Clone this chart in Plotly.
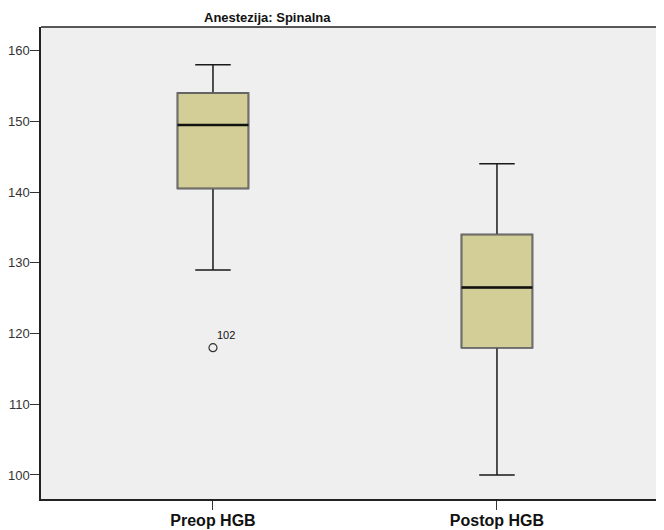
import plotly.graph_objects as go

categories = ["Preop HGB", "Postop HGB"]
lower_whisker = [129, 100]
q1_values = [140.5, 118]
medians = [149.5, 126.5]
q3_values = [154, 134]
upper_whisker = [158, 144]
outlier_values = [118]
outlier_group = [0]
outlier_labels = ["102"]
y_ticks = [100, 110, 120, 130, 140, 150, 160]

positions = list(range(len(categories)))
BOX_W = 0.25
FILL = "#d3ce97"

fig = go.Figure()

fig.add_trace(go.Box(
    x=positions, q1=q1_values, median=medians, q3=q3_values,
    lowerfence=lower_whisker, upperfence=upper_whisker,
    width=BOX_W, whiskerwidth=0.5, fillcolor=FILL,
    line=dict(color="#1a1a1a", width=1.5),
    boxpoints=False, showlegend=False, hoverinfo="skip",
))

# gray box outline and thick median line on top
for i, p in enumerate(positions):
    x0, x1 = p - BOX_W / 2, p + BOX_W / 2
    fig.add_trace(go.Scatter(
        x=[x0, x1, x1, x0, x0],
        y=[q1_values[i], q1_values[i], q3_values[i], q3_values[i], q1_values[i]],
        mode="lines", line=dict(color="#6e6e6e", width=1.5),
        showlegend=False, hoverinfo="skip",
    ))
    fig.add_trace(go.Scatter(
        x=[x0, x1], y=[medians[i], medians[i]],
        mode="lines", line=dict(color="#111111", width=2.5),
        showlegend=False, hoverinfo="skip",
    ))

fig.add_trace(go.Scatter(
    x=[positions[g] for g in outlier_group], y=outlier_values,
    mode="markers",
    marker=dict(symbol="circle-open", size=8, color="#333333", line=dict(width=1.2)),
    showlegend=False, hoverinfo="skip",
))
for g, v, t in zip(outlier_group, outlier_values, outlier_labels):
    fig.add_annotation(x=positions[g], y=v, text=t, showarrow=False,
                       xanchor="left", yanchor="middle", xshift=2, yshift=13,
                       font=dict(family="Liberation Sans, Arial", size=11, color="#111111"))

fig.add_annotation(xref="paper", yref="paper", x=(259 - 33) / 615, y=1, yshift=10,
                   text="<b>Anestezija: Spinalna</b>", showarrow=False,
                   xanchor="center", yanchor="middle",
                   font=dict(family="Liberation Sans, Arial", size=13, color="#111111"))

# top border only (right side of the frame is cut off in the reference)
fig.add_shape(type="line", xref="paper", yref="paper", x0=0, x1=1, y0=1, y1=1,
              line=dict(color="#222222", width=1.5))

fig.update_layout(
    width=648, height=522,
    margin=dict(l=33, r=0, t=19, b=31, autoexpand=False),
    paper_bgcolor="white", plot_bgcolor="#efefef",
    font=dict(family="Liberation Sans, Arial", color="#222222"),
    xaxis=dict(
        range=[-0.6056, 1.56], tickmode="array", tickvals=positions,
        ticktext=["<b>%s</b>" % c for c in categories],
        tickfont=dict(size=16, color="#111111"),
        ticks="outside", ticklen=9, tickcolor="#333333",
        showline=True, linecolor="#222222", linewidth=1.5,
        showgrid=False, zeroline=False, automargin=False,
        ticklabelstandoff=-3,
    ),
    yaxis=dict(
        range=[96.6, 163.35], tickmode="array", tickvals=y_ticks,
        tickfont=dict(size=13, color="#333333"),
        ticks="outside", ticklen=9, tickcolor="#333333",
        showline=True, linecolor="#222222", linewidth=1.5,
        showgrid=False, zeroline=False, automargin=False,
        ticklabelstandoff=-2,
    ),
)

fig.write_html("out.html")
